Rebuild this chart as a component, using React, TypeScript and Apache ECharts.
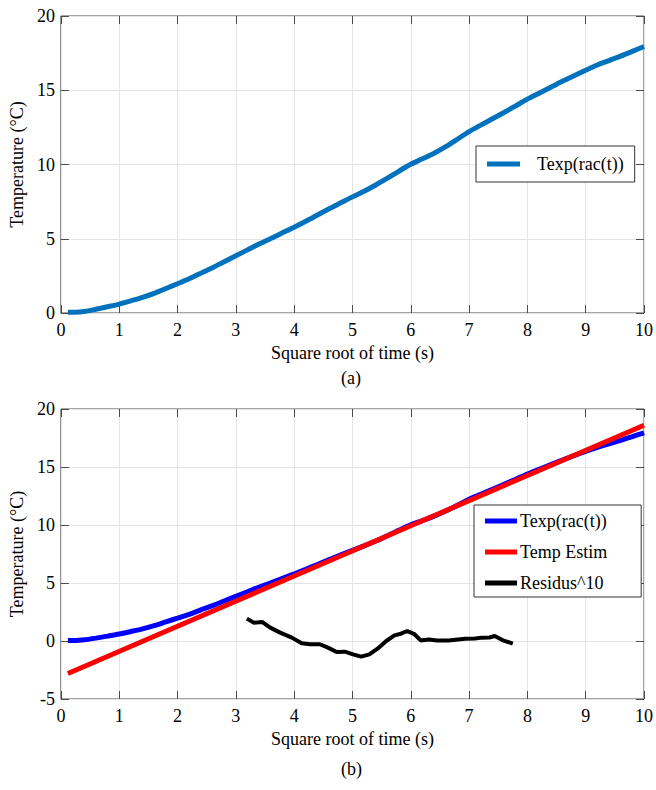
import React, { useEffect, useRef } from "react";
import * as echarts from "echarts";

// Experimental temperature vs square root of time
const texpX = [0.12, 0.25, 0.4, 0.6, 0.8, 1.0, 1.2, 1.4, 1.6, 1.8, 2.0, 2.2, 2.4, 2.6, 2.8, 3.0, 3.2, 3.4, 3.6, 3.8, 4.0, 4.2, 4.4, 4.6, 4.8, 5.0, 5.2, 5.4, 5.6, 5.8, 6.0, 6.2, 6.4, 6.6, 6.8, 7.0, 7.2, 7.4, 7.6, 7.8, 8.0, 8.2, 8.4, 8.6, 8.8, 9.0, 9.2, 9.4, 9.6, 9.8, 10.0];
const texpY = [0.05, 0.05, 0.1, 0.25, 0.42, 0.6, 0.82, 1.05, 1.32, 1.65, 1.97, 2.3, 2.68, 3.05, 3.45, 3.85, 4.25, 4.65, 5.02, 5.4, 5.78, 6.18, 6.6, 7.02, 7.42, 7.82, 8.2, 8.62, 9.08, 9.56, 10.02, 10.38, 10.76, 11.2, 11.7, 12.22, 12.65, 13.08, 13.5, 13.95, 14.4, 14.8, 15.2, 15.6, 15.98, 16.35, 16.7, 17.0, 17.3, 17.62, 17.95];

// Linear estimate
const estimX = [0.12, 2, 4, 6, 8, 10];
const estimY = [-2.8, 1.27, 5.6, 9.93, 14.27, 18.6];

// Residuals ^10
const residX = [3.19, 3.31, 3.45, 3.59, 3.76, 3.96, 4.13, 4.27, 4.44, 4.58, 4.73, 4.87, 5.01, 5.15, 5.29, 5.43, 5.58, 5.72, 5.83, 5.94, 6.06, 6.17, 6.31, 6.45, 6.65, 6.93, 7.1, 7.22, 7.35, 7.44, 7.58, 7.75];
const residY = [1.93, 1.58, 1.64, 1.15, 0.72, 0.29, -0.2, -0.28, -0.28, -0.57, -0.95, -0.92, -1.15, -1.35, -1.15, -0.66, 0.0, 0.49, 0.63, 0.86, 0.6, 0.05, 0.12, 0.05, 0.05, 0.2, 0.22, 0.29, 0.3, 0.43, 0.06, -0.22];

const xTicks = { min: 0, max: 10, interval: 1 };
const yTicksA = { min: 0, max: 20, interval: 5 };
const yTicksB = { min: -5, max: 20, interval: 5 };

const xName = "Square root of time (s)";
const yName = "Temperature (°C)";
const panelLabels = ["(a)", "(b)"];

const FONT = "Liberation Serif";
const BOX = "#4a4a4a";
const GRIDC = "#e4e4e4";

const zip = (xs: number[], ys: number[]) => xs.map((x, i) => [x, ys[i]]);

export default function App() {
  const ref = useRef<HTMLDivElement>(null);
  useEffect(() => {
    document.body.style.margin = "0";
    const chart = echarts.init(ref.current!, undefined, { renderer: "svg" });
    const labelStyle = { fontFamily: FONT, fontSize: 18, color: "#000" };
    const tick = { show: true, inside: true, length: 8, lineStyle: { color: BOX } };
    const mainX = (gi: number) => ({
      type: "value",
      gridIndex: gi,
      ...xTicks,
      position: "bottom",
      axisLine: { show: false, onZero: false },
      axisTick: tick,
      splitLine: { show: true, lineStyle: { color: GRIDC, width: 1 } },
      axisLabel: { ...labelStyle, margin: 8 },
      name: xName,
      nameLocation: "middle",
      nameGap: 31,
      nameTextStyle: { ...labelStyle },
    });
    const topX = (gi: number) => ({
      type: "value",
      gridIndex: gi,
      ...xTicks,
      position: "top",
      axisLine: { show: false, onZero: false },
      axisTick: tick,
      splitLine: { show: false },
      axisLabel: { show: false },
    });
    const mainY = (gi: number, t: any) => ({
      type: "value",
      gridIndex: gi,
      ...t,
      position: "left",
      axisLine: { show: false, onZero: false },
      axisTick: tick,
      splitLine: { show: true, lineStyle: { color: GRIDC, width: 1 } },
      axisLabel: { ...labelStyle, margin: 6 },
      name: yName,
      nameLocation: "middle",
      nameRotate: 90,
      nameGap: 28,
      nameTextStyle: { ...labelStyle },
    });
    const rightY = (gi: number, t: any) => ({
      type: "value",
      gridIndex: gi,
      ...t,
      position: "right",
      axisLine: { show: false, onZero: false },
      axisTick: tick,
      splitLine: { show: false },
      axisLabel: { show: false },
    });

    chart.setOption({
      animation: false,
      backgroundColor: "#fff",
      textStyle: { fontFamily: FONT },
      grid: [
        { left: 59, top: 16, width: 587, height: 297, show: true, borderColor: BOX, borderWidth: 1, backgroundColor: "#fff" },
        { left: 58, top: 409, width: 589, height: 290, show: true, borderColor: BOX, borderWidth: 1, backgroundColor: "#fff" },
      ],
      xAxis: [mainX(0), topX(0), mainX(1), topX(1)],
      yAxis: [mainY(0, yTicksA), rightY(0, yTicksA), mainY(1, yTicksB), rightY(1, yTicksB)],
      legend: [
        {
          left: 476,
          top: 146,
          orient: "vertical",
          data: [{ name: "Texp(rac(t))", icon: "rect" }],
          itemWidth: 33,
          itemHeight: 5,
          padding: [8, 11, 8, 11],
          borderColor: "#333",
          borderWidth: 1,
          backgroundColor: "#fff",
          textStyle: { ...labelStyle, lineHeight: 20, padding: [0, 0, 0, 12] },
          selectedMode: false,
        },
        {
          left: 474,
          top: 505,
          orient: "vertical",
          data: [
            { name: "Texp(rac(t)) ", icon: "rect" },
            { name: "Temp Estim", icon: "rect" },
            { name: "Residus^10", icon: "rect" },
          ],
          itemWidth: 32,
          itemHeight: 5,
          itemGap: 11,
          padding: [6, 30, 4, 11],
          borderColor: "#333",
          borderWidth: 1,
          backgroundColor: "#fff",
          textStyle: { ...labelStyle, lineHeight: 20, padding: [0, 0, 0, -2] },
          selectedMode: false,
        },
      ],
      graphic: [
        { type: "text", left: 341, top: 369, style: { text: panelLabels[0], font: `18px ${FONT}`, fill: "#000" } },
        { type: "text", left: 341, top: 760, style: { text: panelLabels[1], font: `18px ${FONT}`, fill: "#000" } },
      ],
      series: [
        {
          name: "Texp(rac(t))",
          type: "line",
          xAxisIndex: 0,
          yAxisIndex: 0,
          data: zip(texpX, texpY),
          showSymbol: false,
          smooth: 0.3,
          lineStyle: { color: "#0072BD", width: 5 },
          itemStyle: { color: "#0072BD" },
        },
        {
          name: "Texp(rac(t)) ",
          type: "line",
          xAxisIndex: 2,
          yAxisIndex: 2,
          data: zip(texpX, texpY),
          showSymbol: false,
          smooth: 0.3,
          lineStyle: { color: "#0000FF", width: 5 },
          itemStyle: { color: "#0000FF" },
        },
        {
          name: "Temp Estim",
          type: "line",
          xAxisIndex: 2,
          yAxisIndex: 2,
          data: zip(estimX, estimY),
          showSymbol: false,
          lineStyle: { color: "#FF0000", width: 5 },
          itemStyle: { color: "#FF0000" },
        },
        {
          name: "Residus^10",
          type: "line",
          xAxisIndex: 2,
          yAxisIndex: 2,
          data: zip(residX, residY),
          showSymbol: false,
          lineStyle: { color: "#000000", width: 4 },
          itemStyle: { color: "#000000" },
        },
      ],
    });
    return () => chart.dispose();
  }, []);
  return <div ref={ref} style={{ position: "absolute", left: 0, top: 0, width: 656, height: 790 }} />;
}
